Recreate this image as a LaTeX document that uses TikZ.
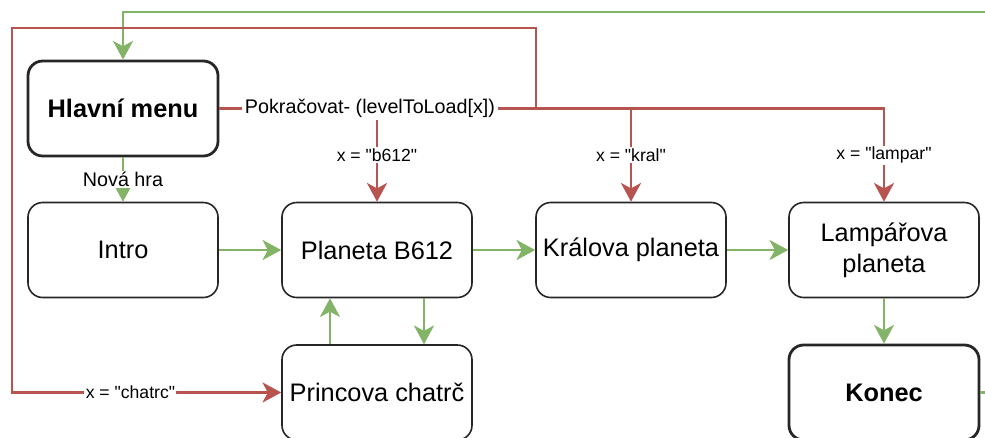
\documentclass[tikz,border=0pt]{standalone}
\usepackage{fontspec}
\setmainfont{Liberation Sans}[Ligatures=TeXReset]
\usetikzlibrary{arrows.meta}
\definecolor{gEdge}{HTML}{82B366}
\definecolor{rEdge}{HTML}{B85450}
\tikzset{
  box/.style={draw=black!85, line width=1.2pt, rounded corners=11pt, fill=white,
    minimum width=142.5pt, minimum height=71.25pt, inner sep=0pt, align=center,
    font=\fontsize{19}{23}\selectfont},
  boldbox/.style={box, line width=2.1pt, font=\fontsize{19}{23}\selectfont\bfseries},
  arr/.style={-{Stealth[length=14pt, width=15pt, inset=4pt]}},
  gline/.style={draw=gEdge, line width=2.2pt},
  rline/.style={draw=rEdge, line width=2.2pt},
  lblbig/.style={fill=white, inner sep=1pt, font=\fontsize{14.8}{17}\selectfont, text=black},
  lblsmall/.style={fill=white, inner sep=1pt, font=\fontsize{13.2}{15}\selectfont, text=black}
}
\begin{document}
\begin{tikzpicture}[x=0.75pt, y=-0.75pt]
\useasboundingbox (0,0) rectangle (985,437);
\clip (0,0) rectangle (985,437);

\node[boldbox] (menu) at (123,108.5) {Hlavní menu};
\node[box] (intro) at (123,250) {Intro};
\node[box] (b612) at (377,250) {Planeta B612};
\node[box] (kral) at (631,250) {Králova planeta};
\node[box] (lampar) at (884,250) {Lampářova\\planeta};
\node[box] (chatrc) at (377,392.5) {Princova chatrč};
\node[boldbox] (konec) at (884,392.5) {Konec};

\coordinate (gR) at (1000,12);
\coordinate (jB) at (b612.north |- menu.east);
\coordinate (jK) at (kral.north |- menu.east);
\coordinate (jT) at (536,0 |- menu.east);
\coordinate (r1) at (536,28);
\coordinate (r2) at (12,28);

% green connectors
\draw[gline, arr] (menu.south) -- node[lblbig] {Nová hra} (intro.north);
\draw[gline, arr] (intro.east) -- (b612.west);
\draw[gline, arr] (b612.east) -- (kral.west);
\draw[gline, arr] (kral.east) -- (lampar.west);
\draw[gline, arr] (lampar.south) -- (konec.north);
\draw[gline, arr] ([xshift=35.25pt]b612.south) -- ([xshift=35.25pt]chatrc.north);
\draw[gline, arr] ([xshift=-35.25pt]chatrc.north) -- ([xshift=-35.25pt]b612.south);
\draw[gline, arr] (konec.east) -| (gR) -| (menu.north);

% red connectors
\draw[rline, arr] (menu.east) -| node[lblsmall, pos=0.75] {x = "lampar"} (lampar.north);
\draw[rline, arr] (jB) -- node[lblsmall] {x = "b612"} (b612.north);
\draw[rline, arr] (jK) -- node[lblsmall] {x = "kral"} (kral.north);
\draw[rline, arr] (jT) -- (r1) -- (r2) |- node[lblsmall, pos=0.72] {x = "chatrc"} (chatrc.west);

\node[lblbig, inner sep=2pt] (pok) at (370,108.5) {Pokračovat- (levelToLoad[x])};
\end{tikzpicture}
\end{document}
